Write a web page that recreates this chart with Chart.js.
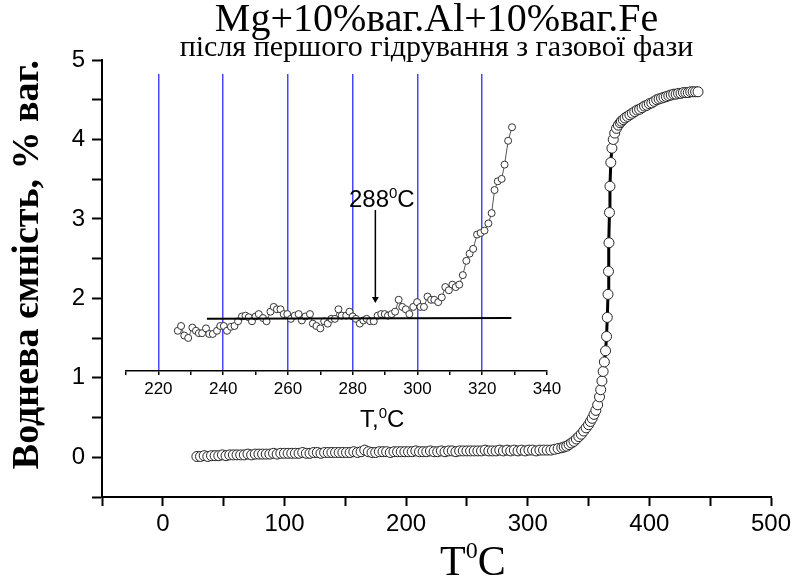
<!DOCTYPE html>
<html>
<head>
<meta charset="utf-8">
<script src="https://cdn.jsdelivr.net/npm/chart.js@4.4.1/dist/chart.umd.min.js"></script>
<style>
  html, body { margin: 0; padding: 0; background: #fff; }
  #wrap { position: relative; width: 796px; height: 581px; }
  #wrap canvas { position: absolute; left: 0; top: 0; }
</style>
</head>
<body>
<div id="wrap">
  <canvas id="mainChart" width="796" height="581"></canvas>
  <canvas id="insetChart" width="796" height="581"></canvas>
</div>
<script>
// main curve: temperature (°C) and hydrogen capacity (wt.%)
const tempMain = [
  28,31,34,37,40,43,46,49,52,55,58,
  61,64,67,70,73,76,79,82,85,88,91,94,97,
  100,103,106,109,112,115,118,121,124,127,130,133,136,139,142,145,
  148,151,154,157,160,163,166,169,172,175,178,181,184,187,190,193,196,
  199,202,205,208,211,214,217,220,223,226,229,232,235,238,241,244,247,
  250,253,256,259,262,265,268,271,274,277,280,283,286,289,292,295,298,301,304,307,310,313,316,
  319,322,325,328,330,332,334,336,338,340,342,344,346,348,350,351.5,353,354.5,356,357.5,
  359,360,361,362,363,364,364.8,365.4,366,366.4,366.8,367.2,367.6,368.3,369.2,370.3,371.5,373,374.5,376,
  377,378.5,380,382,384,386,388,390,392,394,396,398,400,402,404,406,408,410,412,414,416,418,420,
  422,424,426,428,430,432,434,436,438,440
];
const capacityMain = [
  0.01,0.01,0.02,0.01,0.02,0.02,0.02,0.03,0.02,0.03,0.03,
  0.03,0.03,0.03,0.04,0.03,0.04,0.04,0.04,0.04,0.04,0.05,0.04,0.05,
  0.05,0.05,0.05,0.05,0.05,0.06,0.05,0.05,0.06,0.06,0.05,0.06,0.06,0.06,0.06,0.06,
  0.06,0.06,0.06,0.07,0.06,0.07,0.09,0.07,0.06,0.06,0.07,0.07,0.07,0.06,0.07,0.07,0.07,
  0.07,0.07,0.07,0.08,0.07,0.07,0.07,0.08,0.07,0.07,0.08,0.07,0.08,0.08,0.07,0.08,0.08,
  0.08,0.08,0.08,0.08,0.08,0.09,0.08,0.08,0.08,0.09,0.08,0.09,0.08,0.09,0.08,0.09,0.08,0.09,0.09,0.08,0.09,0.09,0.09,
  0.09,0.10,0.11,0.12,0.13,0.14,0.16,0.18,0.20,0.23,0.26,0.29,0.33,0.37,0.41,0.45,0.49,0.54,0.59,0.66,
  0.76,0.85,0.96,1.08,1.20,1.34,1.52,1.76,2.05,2.34,2.70,3.08,3.41,3.71,3.89,4.00,4.08,4.14,4.18,4.21,
  4.23,4.25,4.27,4.29,4.31,4.33,4.35,4.37,4.38,4.40,4.42,4.43,4.45,4.46,4.48,4.50,4.51,4.52,4.53,4.54,4.55,4.56,4.57,
  4.57,4.58,4.58,4.59,4.59,4.59,4.60,4.60,4.60,4.60
];

// inset: magnified onset region (values read against the main axis)
const tempInset = [
  226.0,227.0,228.0,229.2,230.5,231.6,232.5,233.5,234.7,235.7,
  236.8,238.1,239.1,240.2,241.2,242.4,243.5,244.6,245.8,246.9,
  247.9,248.9,250.0,251.0,252.3,253.4,254.6,255.6,256.6,257.7,
  258.7,259.8,260.9,262.1,263.3,264.3,265.4,266.8,267.7,268.8,
  270.0,271.2,272.3,273.4,274.5,275.6,276.6,278.0,279.0,280.0,
  281.0,282.2,283.3,284.3,285.4,286.5,287.7,288.8,289.9,290.9,
  292.0,293.1,294.2,295.3,296.4,297.5,298.7,299.9,300.9,302.0,
  303.1,304.2,305.2,306.4,307.5,308.6,309.7,310.8,311.8,312.9,
  314.0,315.1,316.1,317.2,318.4,319.5,320.7,321.9,322.9,323.8,
  324.8,326.0,326.9,328.0,329.2
];
const capacityInset = [
  1.60,1.66,1.54,1.51,1.64,1.60,1.57,1.57,1.63,1.56,
  1.56,1.60,1.66,1.66,1.60,1.65,1.66,1.72,1.78,1.79,
  1.77,1.72,1.78,1.81,1.76,1.72,1.84,1.90,1.87,1.87,
  1.81,1.81,1.75,1.79,1.81,1.73,1.78,1.81,1.69,1.66,
  1.63,1.72,1.69,1.75,1.75,1.87,1.79,1.79,1.84,1.78,
  1.75,1.69,1.73,1.75,1.72,1.72,1.79,1.81,1.81,1.79,
  1.81,1.84,1.99,1.90,1.87,1.81,1.90,1.96,1.90,1.90,
  2.03,1.99,1.99,1.96,2.02,2.15,2.11,2.18,2.15,2.18,
  2.30,2.48,2.57,2.63,2.81,2.83,2.86,2.95,3.08,3.37,
  3.48,3.51,3.69,3.99,4.16
];
const baselineTemp = [235, 329];
const baselineCap = [1.75, 1.76];
const arrowTemp = [287, 287];
const arrowCap = [3.12, 2.0];
const onsetTemp = 288;

// tick labels
const mainXLabels = [0, 100, 200, 300, 400, 500];
const mainYLabels = [0, 1, 2, 3, 4, 5];
const insetXLabels = [220, 240, 260, 280, 300, 320, 340];
const insetGridAt = [220, 240, 260, 280, 300, 320];

const serif = "'Liberation Serif', 'Times New Roman', serif";
const sans = "'Liberation Sans', Arial, sans-serif";

const toPoints = (xs, ys) => xs.map((x, i) => ({ x: x, y: ys[i] }));

// draws "base" + raised small "0" + "C"
function degreeText(ctx, parts, left, baseline, big, small, family, rise) {
  ctx.save();
  ctx.fillStyle = '#000';
  ctx.textBaseline = 'alphabetic';
  ctx.font = big + 'px ' + family;
  ctx.fillText(parts[0], left, baseline);
  let x = left + ctx.measureText(parts[0]).width;
  ctx.font = small + 'px ' + family;
  ctx.fillText('0', x, baseline - rise);
  x += ctx.measureText('0').width;
  ctx.font = big + 'px ' + family;
  ctx.fillText('C', x, baseline);
  ctx.restore();
}

const mainXTitle = {
  id: 'mainXTitle',
  afterDraw(chart) {
    degreeText(chart.ctx, ['T'], 440, 575, 42, 24, serif, 17);
  }
};

new Chart(document.getElementById('mainChart'), {
  type: 'scatter',
  data: {
    datasets: [{
      data: toPoints(tempMain, capacityMain),
      showLine: true,
      borderColor: '#000',
      borderWidth: 3,
      pointRadius: 5,
      pointBackgroundColor: '#fff',
      pointBorderColor: '#222',
      pointBorderWidth: 1
    }]
  },
  options: {
    responsive: false,
    animation: false,
    layout: { padding: { left: 9, right: 25, top: 0, bottom: 0 } },
    plugins: {
      legend: { display: false },
      tooltip: { enabled: false },
      title: {
        display: true,
        fullSize: false,
        text: 'Mg+10%ваг.Al+10%ваг.Fe',
        color: '#000',
        font: { family: serif, size: 40, weight: 'normal', lineHeight: 40 / 40 },
        padding: { top: 0, bottom: 0 }
      },
      subtitle: {
        display: true,
        fullSize: false,
        text: 'після першого гідрування з газової фази',
        color: '#000',
        font: { family: serif, size: 30, lineHeight: 16 / 30 },
        padding: { top: 0, bottom: 4 }
      }
    },
    scales: {
      x: {
        type: 'linear',
        min: -50,
        max: 500,
        afterFit: s => { s.height = 84; },
        border: { color: '#000', width: 2 },
        grid: { drawOnChartArea: false, drawTicks: true, tickLength: 9, tickColor: '#000', tickWidth: 2 },
        ticks: {
          stepSize: 50, autoSkip: false, maxRotation: 0, padding: 4, color: '#000',
          font: { family: sans, size: 24 },
          callback: v => mainXLabels.includes(v) ? String(v) : ''
        }
      },
      y: {
        min: -0.5,
        max: 5,
        afterFit: s => { s.width = 93; },
        border: { color: '#000', width: 2 },
        grid: { drawOnChartArea: false, drawTicks: true, tickLength: 10, tickColor: '#000', tickWidth: 2 },
        ticks: {
          stepSize: 0.5, autoSkip: false, padding: 7, color: '#000',
          font: { family: sans, size: 24 },
          callback: v => mainYLabels.includes(v) ? String(v) : ''
        },
        title: {
          display: true, align: 'end', text: 'Воднева ємність, % ваг.', color: '#000',
          font: { family: serif, size: 38, weight: 'bold', lineHeight: 1 },
          padding: 0
        }
      }
    }
  },
  plugins: [mainXTitle]
});

// "288°C" label above the arrow and the inset axis title
const insetText = {
  id: 'insetText',
  afterDraw(chart) {
    const { ctx, scales: { x, y } } = chart;
    ctx.save();
    ctx.font = '24px ' + sans;
    const w = ctx.measureText(String(onsetTemp) + 'C').width;
    ctx.font = '15px ' + sans;
    const w0 = ctx.measureText('0').width;
    ctx.restore();
    const cx = x.getPixelForValue(289);
    const by = y.getPixelForValue(3.27) + 9;
    degreeText(ctx, [String(onsetTemp)], cx - (w + w0) / 2, by, 24, 15, sans, 9);
    degreeText(ctx, ['T,'], 360, 427, 24, 15, sans, 9);
  }
};

new Chart(document.getElementById('insetChart'), {
  type: 'scatter',
  data: {
    datasets: [
      {
        data: toPoints(baselineTemp, baselineCap),
        showLine: true, borderColor: '#000', borderWidth: 2, pointRadius: 0
      },
      {
        data: toPoints(arrowTemp, arrowCap),
        showLine: true, borderColor: '#000', borderWidth: 1.5,
        pointRadius: [0, 4], pointStyle: 'triangle', rotation: 180,
        pointBackgroundColor: '#000', pointBorderColor: '#000', pointBorderWidth: 0
      },
      {
        data: toPoints(tempInset, capacityInset),
        showLine: true, borderColor: '#555', borderWidth: 1,
        pointRadius: 3.5, pointBackgroundColor: '#fff', pointBorderColor: '#333', pointBorderWidth: 1
      }
    ]
  },
  options: {
    responsive: false,
    animation: false,
    layout: { padding: { left: 126, right: 249, top: 74, bottom: 150 } },
    plugins: { legend: { display: false }, tooltip: { enabled: false } },
    scales: {
      x: {
        type: 'linear',
        min: 210,
        max: 340,
        afterFit: s => { s.height = 60; },
        border: { color: '#000', width: 1.5 },
        grid: {
          color: c => (c.tick && insetGridAt.includes(c.tick.value)) ? '#4646ff' : 'rgba(0,0,0,0)',
          lineWidth: 1.5,
          drawTicks: true, tickLength: 4, tickColor: '#000', tickWidth: 1.5
        },
        ticks: {
          stepSize: 10, autoSkip: false, maxRotation: 0, padding: 4, color: '#000',
          font: { family: sans, size: 17 },
          callback: v => insetXLabels.includes(v) ? String(v) : ''
        }
      },
      y: { display: false, min: 1.094, max: 4.83 }
    }
  },
  plugins: [insetText]
});
</script>
</body>
</html>
